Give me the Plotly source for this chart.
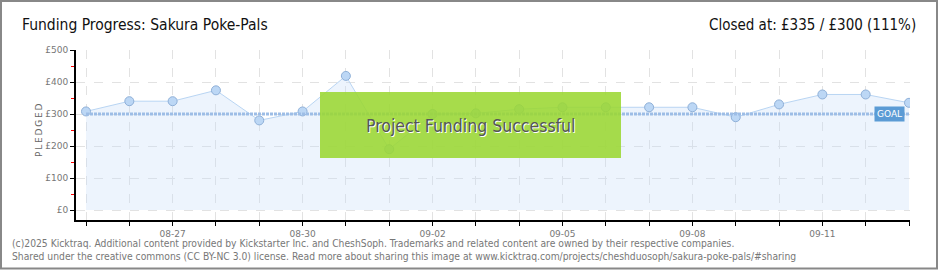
import plotly.graph_objects as go
import pandas as pd

dates = pd.date_range("2025-08-25", "2025-09-13", freq="D").strftime("%Y-%m-%d").tolist()
pledged = [308, 340, 340, 374, 280, 308, 419, 190, 300, 302, 315, 321, 321, 321, 321, 290, 330, 361, 361, 335]
goal = 300
label_dates = ["2025-08-27", "2025-08-30", "2025-09-02", "2025-09-05", "2025-09-08", "2025-09-11"]
y_ticks = [0, 100, 200, 300, 400, 500]

W, H = 940, 270
L, R, T, B = 76, 910, 50, 220  # plot area pixel box
PW, PH = R - L, B - T

def px(x):
    return (x - L) / PW

def py(y):
    return (B - y) / PH

ticktext = [pd.Timestamp(d).strftime("%m-%d") if d in label_dates else "" for d in dates]
ytext = ["£%d" % v for v in y_ticks]

# extend ranges so the axis lines sit offset from the data area (as in reference)
d0 = pd.Timestamp(dates[0]); d1 = pd.Timestamp(dates[-1])
day_px = (909 - 86) / (len(dates) - 1)
x_start = d0 - pd.Timedelta(days=(86 - L) / day_px)
x_end = d1 + pd.Timedelta(days=(R - 909) / day_px)
y_per_px = 500 / (210 - 50)
y_min = -(B - 210) * y_per_px
y_max = 500

fig = go.Figure()
fig.add_trace(go.Scatter(
    x=dates, y=pledged, mode="lines+markers", fill="tozeroy",
    fillcolor="rgba(200,222,248,0.33)", line=dict(color="#b9d5f3", width=1),
    marker=dict(size=9, color="#bcd7f5", line=dict(color="#8fb0d8", width=1)),
    hoverinfo="skip", showlegend=False))
fig.add_trace(go.Scatter(
    x=[dates[0], dates[-1]], y=[goal, goal], mode="lines",
    line=dict(color="#9dbde6", width=3, dash="3px,1px"),
    hoverinfo="skip", showlegend=False))

fig.update_layout(
    width=W, height=H, margin=dict(l=L, r=W - R, t=T, b=H - B),
    paper_bgcolor="white", plot_bgcolor="white",
    xaxis=dict(
        range=[x_start, x_end], type="date",
        tickvals=dates, ticktext=ticktext, ticks="outside", ticklen=4,
        tickcolor="black", showline=True, linecolor="black", linewidth=2,
        showgrid=True, gridcolor="#e2e2e2", griddash="dash", zeroline=False,
        tickfont=dict(family="DejaVu Sans", size=9, color="#777")),
    yaxis=dict(
        range=[y_min, y_max], tickvals=y_ticks, ticktext=ytext,
        ticks="outside", ticklen=4, tickcolor="black",
        showline=True, linecolor="black", linewidth=2, zeroline=False,
        showgrid=True, gridcolor="#e2e2e2", griddash="dash",
        minor=dict(tickmode="linear", tick0=0, dtick=50, ticks="outside", ticklen=3,
                   tickcolor="red", showgrid=False),
        tickfont=dict(family="DejaVu Sans", size=9, color="#777")),
)

# Success box
fig.add_shape(type="rect", xref="paper", yref="paper",
              x0=px(320), x1=px(621), y0=py(158), y1=py(92),
              fillcolor="rgba(155,215,50,0.88)", line=dict(width=0), layer="above")
fig.add_annotation(xref="paper", yref="paper", x=px(470), y=py(126),
                   text="Project Funding Successful", showarrow=False,
                   font=dict(family="DejaVu Sans Condensed, DejaVu Sans, sans-serif",
                             size=17.5, color="#555", shadow="1px 1px 0px #ffffff"))

# GOAL label
fig.add_annotation(x=dates[-1], y=goal, xref="x", yref="y", xanchor="right", xshift=-4,
                   text="GOAL", showarrow=False, bgcolor="#5b9bd5", borderpad=2,
                   font=dict(family="DejaVu Sans", size=9, color="white"))

# Titles
fig.add_annotation(xref="paper", yref="paper", x=px(20), y=py(25), xanchor="left", yanchor="middle",
                   text="Funding Progress: Sakura Poke-Pals", showarrow=False,
                   font=dict(family="DejaVu Sans Condensed, DejaVu Sans, sans-serif", size=15.5, color="#111"))
fig.add_annotation(xref="paper", yref="paper", x=px(918), y=py(25), xanchor="right", yanchor="middle",
                   text="Closed at: £335 / £300 (111%)", showarrow=False,
                   font=dict(family="DejaVu Sans Condensed, DejaVu Sans, sans-serif", size=15, color="#111"))

# Y-axis title
fig.add_annotation(xref="paper", yref="paper", x=px(32), y=py(130), textangle=-90,
                   text="P\u2009L\u2009E\u2009D\u2009G\u2009E\u2009D", showarrow=False,
                   font=dict(family="DejaVu Sans", size=9, color="#666"))

# Footer
fig.add_annotation(xref="paper", yref="paper", x=px(10), y=py(243), xanchor="left", yanchor="middle",
                   text="(c)2025 Kicktraq. Additional content provided by Kickstarter Inc. and CheshSoph. Trademarks and related content are owned by their respective companies.",
                   showarrow=False, font=dict(family="DejaVu Sans Condensed, DejaVu Sans", size=10.25, color="#777"))
fig.add_annotation(xref="paper", yref="paper", x=px(10), y=py(256), xanchor="left", yanchor="middle",
                   text="Shared under the creative commons (CC BY-NC 3.0) license. Read more about sharing this image at www.kicktraq.com/projects/cheshduosoph/sakura-poke-pals/#sharing",
                   showarrow=False, font=dict(family="DejaVu Sans Condensed, DejaVu Sans", size=10.25, color="#777"))

# Frame border
fig.add_shape(type="rect", xref="paper", yref="paper",
              x0=px(1), x1=px(937), y0=py(268.5), y1=py(1),
              line=dict(color="#888", width=2), fillcolor="rgba(0,0,0,0)", layer="above")

fig.write_html("out.html")
